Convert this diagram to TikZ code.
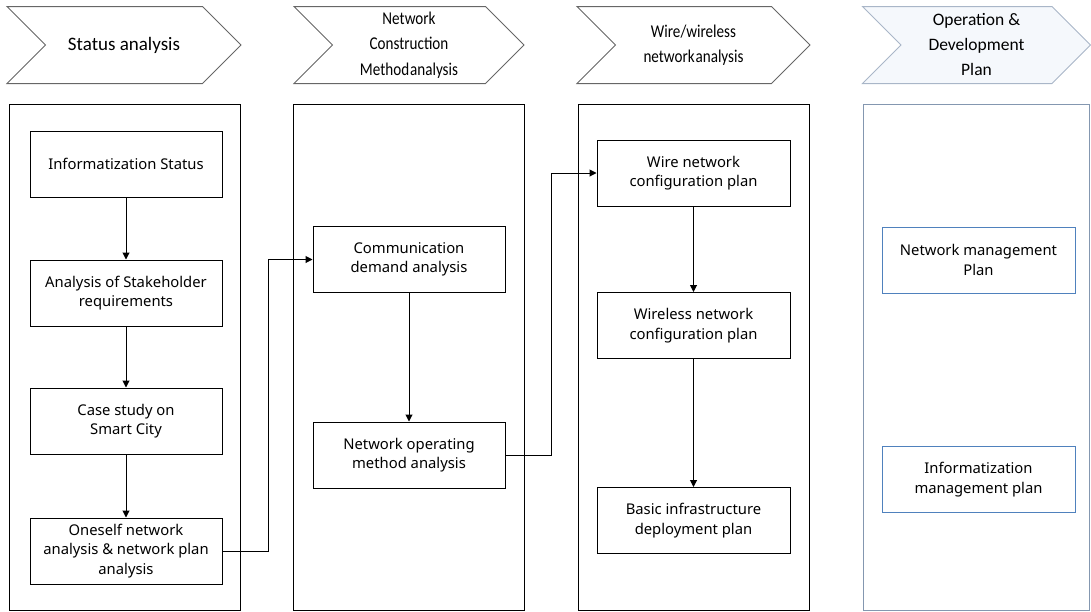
\documentclass[tikz,border=0pt]{standalone}
\usepackage{fontspec}
\setmainfont{Noto Sans}
\newfontfamily\hdrfont{Carlito}
\newfontfamily\narrowfont[FakeStretch=0.84,WordSpace=0.25]{Carlito}
\usetikzlibrary{shapes.symbols,arrows.meta}

\definecolor{opline}{HTML}{8497B0}
\definecolor{opbox}{HTML}{4F81BD}
\definecolor{ophdr}{HTML}{A9B6C8}
\definecolor{opfill}{HTML}{F5F8FC}

\begin{document}
\begin{tikzpicture}[
    x=1pt, y=-1pt,
    >={Triangle[length=7pt,width=7pt]},
    panel/.style={
        rectangle,
        draw,
        line width=1pt,
        minimum width=231pt,
        minimum height=506pt,
        },
    step box/.style={
        rectangle,
        draw,
        line width=1pt,
        minimum width=192pt,
        minimum height=66pt,
        align=center,
        inner sep=2pt,
        font=\fontsize{14.8}{19.5}\selectfont,
        },
    hdr/.style={
        signal,
        signal from=west,
        signal to=east,
        signal pointer angle=90,
        draw=gray!80!black,
        line width=1pt,
        minimum width=234pt,
        minimum height=77pt,
        inner sep=0pt,
        align=center,
        },
    ArrowS/.style={
        line width=1pt,
        },
    ]

    \useasboundingbox (0,0) rectangle (1091,611);

    % headers
    \node [hdr, font=\hdrfont\fontsize{19}{22}\selectfont] (h1) at (124,45) {Status analysis};
    \node [hdr, font=\narrowfont\fontsize{18}{25.5}\selectfont, minimum width=230pt] (h2) at (409,45) {Network\\Construction\\Method analysis};
    \node [hdr, font=\narrowfont\fontsize{18}{25.5}\selectfont, minimum width=233pt] (h3) at (693.5,45) {Wire/wireless\\network analysis};
    \node [hdr, draw=ophdr, fill=opfill, font=\hdrfont\fontsize{17.5}{25}\selectfont, minimum width=228pt] (h4) at (976.5,45) {Operation \&\\Development\\Plan};

    % panels
    \node [panel] (p1) at (124.5,357) {};
    \node [panel] (p2) at (408.5,357) {};
    \node [panel] (p3) at (693.5,357) {};
    \node [panel, draw=opline, minimum width=226pt] (p4) at (976,357) {};

    % status analysis
    \node [step box] (s1) at (126,164) {Informatization Status};
    \node [step box] (s2) at (126,293) {Analysis of Stakeholder\\requirements};
    \node [step box] (s3) at (126,421) {Case study on\\Smart City};
    \node [step box] (s4) at (126,551) {Oneself network\\analysis \& network plan\\analysis};

    % construction method
    \node [step box] (c1) at (409,259.5) {Communication\\demand analysis};
    \node [step box] (c2) at (409,455) {Network operating\\method analysis};

    % wire / wireless
    \node [step box, minimum width=193pt] (w1) at (693.5,173) {Wire network\\configuration plan};
    \node [step box, minimum width=193pt] (w2) at (693.5,325.5) {Wireless network\\configuration plan};
    \node [step box, minimum width=193pt] (w3) at (693.5,520.5) {Basic infrastructure\\deployment plan};

    % operation
    \node [step box, draw=opbox, minimum width=193pt] (o1) at (978.5,260) {Network management\\Plan};
    \node [step box, draw=opbox, minimum width=193pt] (o2) at (978.5,479.5) {Informatization\\management plan};

    \draw [->, ArrowS] (s1) -- (s2);
    \draw [->, ArrowS] (s2) -- (s3);
    \draw [->, ArrowS] (s3) -- (s4);
    \draw [->, ArrowS] (c1) -- (c2);
    \draw [->, ArrowS] (w1) -- (w2);
    \draw [->, ArrowS] (w2) -- (w3);

    \draw [->, ArrowS] (s4.east) -- ++(46,0) |- (c1.west);
    \draw [->, ArrowS] (c2.east) -- ++(46,0) |- (w1.west);

\end{tikzpicture}
\end{document}
